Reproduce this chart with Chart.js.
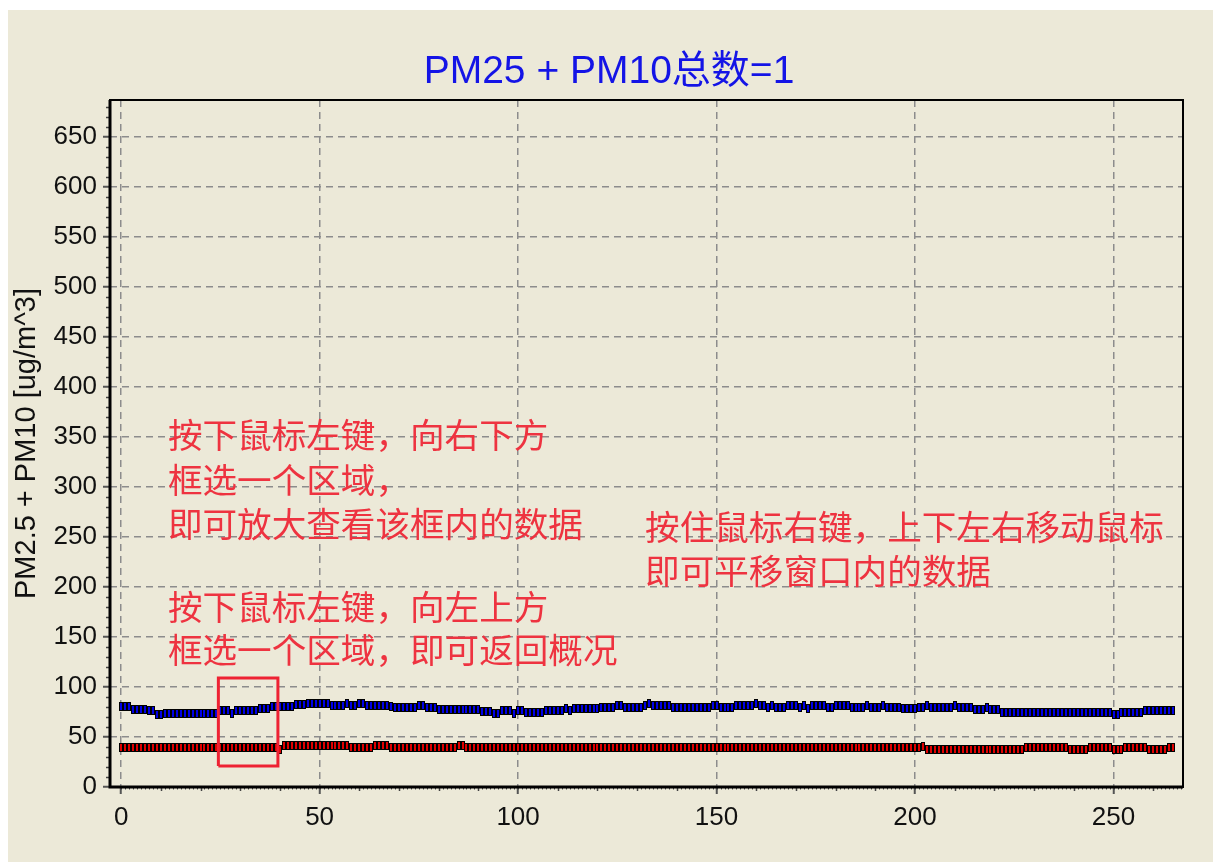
<!DOCTYPE html>
<html lang="zh">
<head>
<meta charset="UTF-8">
<title>PM25 + PM10</title>
<script src="https://cdn.jsdelivr.net/npm/chart.js@4.4.1/dist/chart.umd.min.js"></script>
<style>
  body { margin: 0; background: #fff; }
  #box { position: absolute; left: 8px; top: 10px; width: 1205px; height: 852px; background: #ECE9D8; }
</style>
</head>
<body>
<div id="box"><canvas id="pm" width="1205" height="852"></canvas></div>
<script>
  // values, one per sample
  const seriesBlue = [
    81,81,81,78,78,78,78,77,77,73,
    73,74,74,74,74,74,74,74,74,74,
    74,74,74,74,74,77,77,77,74,77,
    77,77,77,77,77,79,79,79,81,81,
    81,81,81,81,83,83,83,84,84,84,
    84,84,84,82,82,82,82,84,82,82,
    84,84,82,82,82,82,82,82,81,80,
    80,80,80,80,80,82,82,80,80,80,
    78,78,78,78,78,78,78,78,78,78,
    78,76,76,76,74,74,77,77,77,74,
    77,77,75,75,75,75,75,77,77,77,
    77,77,79,77,79,79,79,79,79,79,
    79,80,80,80,80,82,82,80,80,80,
    80,80,82,84,82,82,82,82,82,80,
    80,80,80,80,80,80,80,80,80,82,
    82,80,80,80,80,82,82,82,82,82,
    84,82,82,80,82,80,80,80,82,82,
    82,80,82,79,82,82,82,82,80,80,
    82,82,82,82,80,80,80,80,82,80,
    80,80,82,80,80,80,80,79,79,79,
    79,80,80,82,80,80,80,80,80,80,
    82,80,80,80,80,78,78,78,80,78,
    78,78,75,75,75,75,75,75,75,75,
    75,75,75,75,75,75,75,75,75,75,
    75,75,75,75,75,75,75,75,75,75,
    73,73,75,75,75,75,75,75,77,77,
    77,77,77,77,77,77
  ];
  const seriesRed = [
    40,40,40,40,40,40,40,40,40,40,
    40,40,40,40,40,40,40,40,40,40,
    40,40,40,40,40,40,40,40,40,40,
    40,40,40,40,40,40,40,40,40,40,
    38,42,42,42,42,42,42,42,42,42,
    42,42,42,42,42,42,42,42,40,40,
    40,40,40,40,42,42,42,42,40,40,
    40,40,40,40,40,40,40,40,40,40,
    40,40,40,40,40,42,42,40,40,40,
    40,40,40,40,40,40,40,40,40,40,
    40,40,40,40,40,40,40,40,40,40,
    40,40,40,40,40,40,40,40,40,40,
    40,40,40,40,40,40,40,40,40,40,
    40,40,40,40,40,40,40,40,40,40,
    40,40,40,40,40,40,40,40,40,40,
    40,40,40,40,40,40,40,40,40,40,
    40,40,40,40,40,40,40,40,40,40,
    40,40,40,40,40,40,40,40,40,40,
    40,40,40,40,40,40,40,40,40,40,
    40,40,40,40,40,40,40,40,40,40,
    40,40,41,38,38,38,38,38,38,38,
    38,38,38,38,38,38,38,38,38,38,
    38,38,38,38,38,38,38,38,40,40,
    40,40,40,40,40,40,40,40,40,38,
    38,38,38,38,40,40,40,40,40,40,
    38,38,38,40,40,40,40,40,40,38,
    38,38,38,38,40,40
  ];
  const xTickValues = [0, 50, 100, 150, 200, 250];
  const yTickValues = [0, 50, 100, 150, 200, 250, 300, 350, 400, 450, 500, 550, 600, 650];
  // selection box drawn on the plot (x from..to, y from..to)
  const boxX = [24.5, 39.5];
  const boxY = [21, 109];

  const titleText = 'PM25 + PM10总数=1';
  const yTitle = 'PM2.5 + PM10 [ug/m^3]';
  const notesLeft = [
    ['按下鼠标左键，向右下方', 352],
    ['框选一个区域，', 307],
    ['即可放大查看该框内的数据', 263],
    ['按下鼠标左键，向左上方', 180],
    ['框选一个区域，即可返回概况', 137]
  ];
  const notesRight = [
    ['按住鼠标右键，上下左右移动鼠标', 260],
    ['即可平移窗口内的数据', 216]
  ];

  function marker(fill) {
    const c = document.createElement('canvas');
    c.width = 4; c.height = 9;
    const g = c.getContext('2d');
    g.fillStyle = '#000'; g.fillRect(0, 0, 4, 9);
    g.fillStyle = fill; g.fillRect(1, 1, 2, 7);
    return c;
  }

  const toPoints = arr => arr.map((v, i) => ({x: i, y: v}));
  const boxPoints = [
    {x: boxX[0], y: boxY[0]}, {x: boxX[1], y: boxY[0]},
    {x: boxX[1], y: boxY[1]}, {x: boxX[0], y: boxY[1]}, {x: boxX[0], y: boxY[0]}
  ];

  const font = "'Liberation Sans', Arial, 'Noto Sans CJK SC', sans-serif";
  const cjk = "'Noto Sans CJK SC', 'Liberation Sans', sans-serif";

  const decor = {
    id: 'decor',
    beforeDatasetsDraw(chart) { chart.ctx.imageSmoothingEnabled = false; },
    afterDraw(chart) {
      const {ctx, chartArea: a, scales: {x, y}} = chart;
      ctx.save();
      // minor ticks
      ctx.strokeStyle = '#444';
      ctx.lineWidth = 1.5;
      ctx.beginPath();
      for (let v = 10; v < y.max; v += 10) {
        if (v % 50 === 0) continue;
        const py = Math.round(y.getPixelForValue(v)) + 0.5;
        ctx.moveTo(a.left - 4, py); ctx.lineTo(a.left, py);
      }
      for (let v = 10; v < x.max; v += 10) {
        if (v % 50 === 0) continue;
        const px = Math.round(x.getPixelForValue(v)) + 0.5;
        ctx.moveTo(px, a.bottom); ctx.lineTo(px, a.bottom + 4);
      }
      ctx.stroke();
      ctx.lineWidth = 1;
      ctx.beginPath();
      for (let v = 0; v < x.max; v += 1) {
        const px = Math.round(x.getPixelForValue(v)) + 0.5;
        ctx.moveTo(px, a.bottom); ctx.lineTo(px, a.bottom + 2.5);
      }
      ctx.stroke();
      // frame
      ctx.strokeStyle = '#000';
      ctx.lineWidth = 2;
      ctx.strokeRect(a.left, a.top, a.right - a.left, a.bottom - a.top);
      ctx.lineWidth = 3;
      ctx.beginPath();
      ctx.moveTo(a.left, a.top); ctx.lineTo(a.left, a.bottom); ctx.lineTo(a.right, a.bottom);
      ctx.stroke();
      // title
      ctx.fillStyle = '#1414E6';
      ctx.font = '39px ' + font;
      ctx.textAlign = 'center';
      ctx.textBaseline = 'alphabetic';
      ctx.fillText(titleText, 601, 73);
      // notes
      ctx.fillStyle = '#EE3340';
      ctx.font = '34.6px ' + cjk;
      ctx.textAlign = 'left';
      ctx.textBaseline = 'middle';
      notesLeft.forEach(([t, v]) => ctx.fillText(t, x.getPixelForValue(11.8), y.getPixelForValue(v)));
      notesRight.forEach(([t, v]) => ctx.fillText(t, x.getPixelForValue(132), y.getPixelForValue(v)));
      ctx.restore();
    }
  };

  const gridOpts = {
    color: '#8c8c8c', lineWidth: 1.5,
    tickLength: 7, tickColor: '#555', tickWidth: 2, tickBorderDash: []
  };

  new Chart(document.getElementById('pm'), {
    type: 'line',
    data: {
      datasets: [
        {
          data: boxPoints, order: 0, borderColor: '#EE2233', borderWidth: 3,
          pointRadius: 0, fill: false, tension: 0
        },
        {
          data: toPoints(seriesBlue), order: 1, showLine: false,
          pointStyle: marker('#0000E6'), pointRadius: 4
        },
        {
          data: toPoints(seriesRed), order: 2, showLine: false,
          pointStyle: marker('#E00000'), pointRadius: 4
        }
      ]
    },
    options: {
      responsive: false,
      devicePixelRatio: 1,
      animation: false,
      layout: {padding: {left: 0, top: 90, right: 30, bottom: 0}},
      plugins: {legend: {display: false}, tooltip: {enabled: false}, title: {display: false}},
      scales: {
        x: {
          type: 'linear', min: -2.8, max: 267.5,
          afterBuildTicks: s => { s.ticks = xTickValues.map(v => ({value: v})); },
          afterFit: s => { s.height = 75; },
          grid: gridOpts,
          border: {display: false, dash: [7, 5]},
          ticks: {color: '#111', padding: 8, font: {size: 26, family: font}, maxRotation: 0}
        },
        y: {
          type: 'linear', min: 0, max: 687,
          afterBuildTicks: s => { s.ticks = yTickValues.map(v => ({value: v})); },
          afterFit: s => { s.width = 102; },
          grid: gridOpts,
          border: {display: false, dash: [7, 5]},
          ticks: {color: '#111', padding: 6, font: {size: 26, family: font}},
          title: {
            display: true, text: yTitle, color: '#111',
            font: {size: 29, family: font}, padding: {top: 2, bottom: 0}
          }
        }
      }
    },
    plugins: [decor]
  });
</script>
</body>
</html>
